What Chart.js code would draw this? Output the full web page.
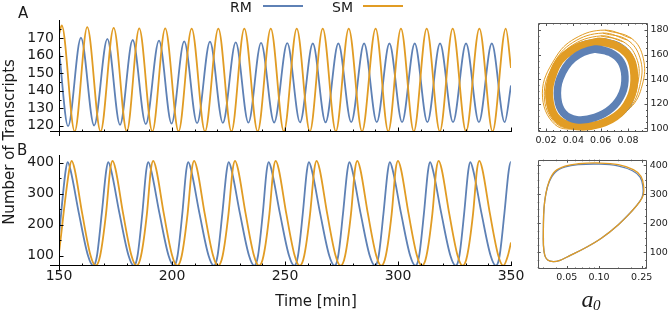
<!DOCTYPE html>
<html>
<head>
<meta charset="utf-8">
<script src="https://cdn.jsdelivr.net/npm/chart.js@4.4.1/dist/chart.umd.min.js"></script>
<style>
  body { margin: 0; background: #fff; width: 669px; height: 311px; position: relative; overflow: hidden; font-family: "DejaVu Sans", sans-serif; color: #1a1a1a; }
  canvas { position: absolute; }
  .t { position: absolute; white-space: nowrap; line-height: 1; }
  .key { position: absolute; height: 2px; }
</style>
</head>
<body>
<canvas id="tsA" width="520" height="150" style="left:0;top:0"></canvas>
<canvas id="tsB" width="540" height="161" style="left:0;top:150px"></canvas>
<canvas id="phA" width="139" height="137" style="left:530px;top:15px"></canvas>
<canvas id="phB" width="139" height="135" style="left:530px;top:152px"></canvas>

<div class="t" style="left:18px;top:5.5px;font-size:15px">A</div>
<div class="t" style="left:17px;top:142.5px;font-size:15px">B</div>
<div class="t" style="left:230px;top:0px;font-size:14px">RM</div>
<div class="key" style="left:263px;top:4.5px;width:40px;background:#5E81B5"></div>
<div class="t" style="left:332px;top:0px;font-size:14px">SM</div>
<div class="key" style="left:363px;top:4.5px;width:40px;background:#E19C24"></div>
<div class="t" style="left:9px;top:142px;font-size:15px;transform:translate(-50%,-50%) rotate(-90deg)">Number of Transcripts</div>
<div class="t" style="left:316px;top:294px;font-size:15px;transform:translateX(-50%)">Time [min]</div>
<div class="t" style="left:581.5px;top:286.5px;font-size:24px;font-family:'Liberation Serif',serif;font-style:italic">a</div>
<div class="t" style="left:593px;top:297.5px;font-size:15px;font-family:'Liberation Serif',serif;font-style:italic">0</div>

<script>
const BLUE = "#5E81B5";
const ORANGE = "#E19C24";

const timeTicks = [150, 200, 250, 300, 350];
const yTicksA = [120, 130, 140, 150, 160, 170];
const yTicksB = [100, 200, 300, 400];

// panel A: peaks and troughs
const rmA_t = [150, 154.0, 159.7, 165.55, 171.4, 177.0, 182.6, 188.4, 194.25, 199.8, 205.4, 211.1, 216.8, 222.5, 228.2, 233.8, 239.4, 245.2, 251.0, 256.65, 262.3, 267.95, 273.6, 279.3, 285.0, 290.6, 296.2, 301.8, 307.4, 313.0, 318.6, 324.35, 330.1, 335.8, 341.5, 347.2, 350];
const rmA_v = [163, 119.8, 170.2, 120.2, 169.6, 120.6, 168.9, 121.0, 168.5, 121.3, 168.1, 121.5, 167.9, 121.7, 167.5, 121.8, 167.3, 121.9, 167.1, 122.0, 166.9, 122.0, 166.9, 122.1, 166.9, 122.1, 166.9, 122.1, 166.9, 122.1, 166.9, 122.1, 166.9, 122.1, 166.9, 122.1, 143];
const smA_t = [150, 151.2, 156.95, 162.5, 168.4, 174.2, 180.0, 185.5, 191.3, 197.0, 202.9, 208.7, 214.6, 220.5, 226.3, 232.0, 237.9, 243.7, 249.5, 255.2, 261.0, 266.7, 272.5, 278.2, 284.1, 290.1, 295.7, 301.3, 307.0, 312.7, 318.5, 324.2, 330.1, 336.0, 341.85, 347.7, 350];
const smA_v = [172, 177.2, 116.8, 176.2, 116.8, 175.8, 116.8, 175.5, 116.8, 175.5, 116.8, 175.4, 116.8, 175.4, 116.8, 175.4, 116.8, 175.4, 116.8, 175.4, 116.8, 175.4, 116.8, 175.4, 116.8, 175.4, 116.8, 175.4, 116.8, 175.4, 116.8, 175.4, 116.8, 175.4, 116.8, 175.4, 153];

// panel B: each cycle read as shoulder, peak, shoulder, mid fall, low, trough, low, mid rise
const rmB_t = [150,
  152.95, 153.85, 155.15, 158.85, 162.85, 165.2, 166.8, 168.9,
  170.9, 171.8, 173.1, 176.8, 180.8, 183.15, 184.75, 186.85,
  188.6, 189.5, 190.8, 194.5, 198.5, 200.85, 202.45, 204.55,
  206.3, 207.2, 208.5, 212.2, 216.2, 218.55, 220.15, 222.25,
  224.2, 225.1, 226.4, 230.1, 234.1, 236.45, 238.05, 240.15,
  241.9, 242.8, 244.1, 247.8, 251.8, 254.15, 255.75, 257.85,
  259.7, 260.6, 261.9, 265.6, 269.6, 271.95, 273.55, 275.65,
  277.6, 278.5, 279.8, 283.5, 287.5, 289.85, 291.45, 293.55,
  295.5, 296.4, 297.7, 301.4, 305.4, 307.75, 309.35, 311.45,
  313.3, 314.2, 315.5, 319.2, 323.2, 325.55, 327.15, 329.25,
  331.1, 332.0, 333.3, 337.0, 341.0, 343.35, 344.95, 347.05,
  349.0, 349.9, 350];
const rmB_v = [165,
  375, 402, 375, 235, 100, 68, 100, 235,
  375, 402, 375, 235, 100, 68, 100, 235,
  375, 402, 375, 235, 100, 68, 100, 235,
  375, 402, 375, 235, 100, 68, 100, 235,
  375, 402, 375, 235, 100, 68, 100, 235,
  375, 402, 375, 235, 100, 68, 100, 235,
  375, 402, 375, 235, 100, 68, 100, 235,
  375, 402, 375, 235, 100, 68, 100, 235,
  375, 402, 375, 235, 100, 68, 100, 235,
  375, 402, 375, 235, 100, 68, 100, 235,
  375, 402, 375, 235, 100, 68, 100, 235,
  375, 402, 401];
const smB_t = [150,
  154.6, 155.6, 156.9, 160.3, 164.0, 166.2, 168.2, 170.8,
  172.7, 173.7, 175.0, 178.4, 182.1, 184.3, 186.3, 188.9,
  190.7, 191.7, 193.0, 196.4, 200.1, 202.3, 204.3, 206.9,
  208.8, 209.8, 211.1, 214.5, 218.2, 220.4, 222.4, 225.0,
  226.9, 227.9, 229.2, 232.6, 236.3, 238.5, 240.5, 243.1,
  244.9, 245.9, 247.2, 250.6, 254.3, 256.5, 258.5, 261.1,
  263.0, 264.0, 265.3, 268.7, 272.4, 274.6, 276.6, 279.2,
  281.0, 282.0, 283.3, 286.7, 290.4, 292.6, 294.6, 297.2,
  299.0, 300.0, 301.3, 304.7, 308.4, 310.6, 312.6, 315.2,
  317.0, 318.0, 319.3, 322.7, 326.4, 328.6, 330.6, 333.2,
  335.0, 336.0, 337.3, 340.7, 344.4, 346.6, 348.6, 350];
const smB_v = [110,
  380, 406, 380, 235, 100, 68, 100, 235,
  380, 406, 380, 235, 100, 68, 100, 235,
  380, 406, 380, 235, 100, 68, 100, 235,
  380, 406, 380, 235, 100, 68, 100, 235,
  380, 406, 380, 235, 100, 68, 100, 235,
  380, 406, 380, 235, 100, 68, 100, 235,
  380, 406, 380, 235, 100, 68, 100, 235,
  380, 406, 380, 235, 100, 68, 100, 235,
  380, 406, 380, 235, 100, 68, 100, 235,
  380, 406, 380, 235, 100, 68, 100, 235,
  380, 406, 380, 235, 100, 68, 100, 143];

// phase plot A (a0 vs transcripts): bands and thin transient rings
const bandRM_a = [0.0559, 0.0668, 0.0749, 0.0778, 0.0758, 0.0680, 0.0559, 0.0424, 0.0327, 0.0285, 0.0302, 0.0400];
const bandRM_n = [164.5, 161.8, 154.2, 142.1, 128.6, 116.4, 108.9, 107.0, 112.4, 124.5, 140.7, 156.9];
const bandSM_a = [0.0571, 0.0705, 0.0810, 0.0846, 0.0827, 0.0741, 0.0595, 0.0424, 0.0290, 0.0229, 0.0237, 0.0339];
const bandSM_n = [170.4, 167.7, 158.3, 143.4, 127.2, 112.4, 103.5, 101.6, 107.0, 120.5, 139.4, 159.6];
const ringRM_a = [0.0590, 0.0740, 0.0838, 0.0860, 0.0800, 0.0595, 0.0430, 0.0280, 0.0213, 0.0245, 0.0365];
const ringRM_n = [173.0, 169.3, 158.0, 141.0, 115.0, 103.0, 101.0, 105.5, 122.0, 145.0, 164.5];
const ringSM1_a = [0.0601, 0.0766, 0.0861, 0.0876, 0.0790, 0.0595, 0.0443, 0.0278, 0.0201, 0.0251, 0.0376];
const ringSM1_n = [175.2, 170.4, 157.6, 139.4, 114.4, 102.6, 100.5, 105.0, 124.5, 148.3, 166.4];
const ringSM2_a = [0.0615, 0.0797, 0.0888, 0.0892, 0.0803, 0.0595, 0.0452, 0.0272, 0.0187, 0.0258, 0.0394];
const ringSM2_n = [177.5, 171.8, 157.3, 137.3, 115.4, 102.1, 100.0, 104.0, 126.5, 152.6, 169.7];
const ringSM3_a = [0.0632, 0.0827, 0.0912, 0.0905, 0.0815, 0.0595, 0.0461, 0.0266, 0.0173, 0.0266, 0.0412];
const ringSM3_n = [179.9, 173.1, 157.0, 135.3, 116.4, 101.6, 99.5, 103.0, 128.6, 156.9, 173.1];

// phase plot B: limit cycles
const loopRM_a = [0.0303, 0.0303, 0.0307, 0.0318, 0.0343, 0.0391, 0.0485, 0.0645, 0.0986, 0.1495, 0.205, 0.2415, 0.2565, 0.2560, 0.240, 0.2016, 0.1514, 0.1059, 0.0741, 0.0518, 0.0433, 0.0375, 0.0332, 0.0312];
const loopRM_n = [127, 196, 253, 298, 343, 377, 395, 403, 405, 399, 382, 360, 327, 299, 276, 242, 196, 150, 115.5, 86.8, 73, 68.4, 74, 90];
const loopSM_a = [0.0303, 0.0303, 0.0307, 0.0318, 0.0342, 0.0389, 0.0482, 0.0642, 0.0986, 0.1514, 0.209, 0.2463, 0.2608, 0.2588, 0.241, 0.2016, 0.1514, 0.1059, 0.0741, 0.0518, 0.0433, 0.0375, 0.0332, 0.0312];
const loopSM_n = [127, 196, 253, 299, 345, 380, 398, 406, 408.6, 403, 385.6, 362.7, 328, 299, 276, 242, 196, 150, 115.5, 86.8, 73, 68.4, 74, 90];

const phaseTicksAx = [0.02, 0.04, 0.06, 0.08];
const phaseTicksAy = [100, 120, 140, 160, 180];
const phaseTicksBx = [0.05, 0.1, 0.25];
const phaseTicksBy = [100, 200, 300, 400];

Chart.defaults.font.family = "DejaVu Sans";
Chart.defaults.color = "#1a1a1a";
Chart.defaults.elements.point.radius = 0;

function pts(xs, ys) {
  return xs.map((x, i) => ({ x: x, y: ys[i] }));
}
function loop(xs, ys) {
  const p = pts(xs, ys);
  return p.concat(p.slice(0, 2));
}
function steps(from, to, step, len) {
  const out = [];
  for (let i = 0; from + i * step <= to + 1e-9; i++) out.push([+(from + i * step).toFixed(4), len]);
  return out;
}
function zeroPad(s) {
  s.paddingLeft = 0; s.paddingRight = 0; s.paddingTop = 0; s.paddingBottom = 0;
}

// small inward tick marks, axis lines and frames
const marks = {
  id: "marks",
  afterDatasetsDraw(chart, args, o) {
    const ctx = chart.ctx, a = chart.chartArea;
    const sx = chart.scales.x, sy = chart.scales.y;
    ctx.save();
    ctx.strokeStyle = o.color;
    ctx.lineWidth = 1;
    ctx.beginPath();
    if (o.frame) ctx.rect(Math.round(a.left) + 0.5, Math.round(a.top) + 0.5, Math.round(a.right - a.left) - 1, Math.round(a.bottom - a.top) - 1);
    if (o.axes) {
      const x0 = Math.round(a.left) + 0.5, y0 = Math.round(a.bottom) - 0.5;
      ctx.moveTo(x0, a.top); ctx.lineTo(x0, a.bottom + 4);
      ctx.moveTo(a.left - 9, y0); ctx.lineTo(a.right, y0);
    }
    for (const [v, len] of o.x) {
      const p = Math.round(sx.getPixelForValue(v)) + 0.5;
      ctx.moveTo(p, a.bottom); ctx.lineTo(p, a.bottom - len);
      if (o.frame) { ctx.moveTo(p, a.top); ctx.lineTo(p, a.top + len); }
    }
    for (const [v, len] of o.y) {
      const p = Math.round(sy.getPixelForValue(v)) + 0.5;
      ctx.moveTo(a.left, p); ctx.lineTo(a.left + len, p);
      if (o.frame) { ctx.moveTo(a.right, p); ctx.lineTo(a.right - len, p); }
    }
    ctx.stroke();
    ctx.restore();
  }
};

function tsOptions(c) {
  return {
    responsive: false,
    animation: false,
    devicePixelRatio: 1,
    layout: { padding: c.pad },
    plugins: {
      legend: { display: false },
      tooltip: { enabled: false },
      marks: {
        color: "#000",
        axes: true,
        x: steps(150, 350, 10, 2.5).concat(timeTicks.map(v => [v, 4.5])),
        y: c.yMinor.concat(c.yTicks.map(v => [v, 4.5]))
      }
    },
    scales: {
      x: {
        type: "linear", min: 150, max: 350,
        grid: { display: false, drawTicks: false },
        border: { display: false },
        afterBuildTicks: s => { s.ticks = timeTicks.map(v => ({ value: v })); },
        ticks: { display: c.showX, padding: 2, autoSkip: false, maxRotation: 0, font: { size: 14 }, callback: v => v },
        afterFit: s => { s.height = c.xH; zeroPad(s); }
      },
      y: {
        type: "linear", min: c.yMin, max: c.yMax,
        grid: { display: false, drawTicks: false },
        border: { display: false },
        afterBuildTicks: s => { s.ticks = c.yTicks.map(v => ({ value: v })); },
        ticks: { padding: 5, font: { size: 14 }, callback: v => v },
        afterFit: s => { s.width = 59; zeroPad(s); }
      }
    }
  };
}

function phaseOptions(c) {
  return {
    responsive: false,
    animation: false,
    devicePixelRatio: 1,
    layout: { padding: c.pad },
    plugins: {
      legend: { display: false },
      tooltip: { enabled: false },
      marks: { color: "#555", frame: true, x: c.xMarks, y: c.yMarks }
    },
    scales: {
      x: {
        type: c.xType, min: c.xMin, max: c.xMax,
        grid: { display: false, drawTicks: false },
        border: { display: false },
        afterBuildTicks: s => { s.ticks = c.xTicks.map(v => ({ value: v })); },
        ticks: { padding: 3, autoSkip: false, maxRotation: 0, font: { size: 9.5 }, callback: v => Number(v).toFixed(2) },
        afterFit: s => { s.height = c.xH; zeroPad(s); }
      },
      y: {
        type: "linear", position: "right", min: c.yMin, max: c.yMax,
        grid: { display: false, drawTicks: false },
        border: { display: false },
        afterBuildTicks: s => { s.ticks = c.yTicks.map(v => ({ value: v })); },
        ticks: { padding: 3, font: { size: 9.5 }, callback: v => v },
        afterFit: s => { s.width = c.yW; zeroPad(s); }
      }
    }
  };
}

new Chart(document.getElementById("tsA"), {
  type: "line",
  data: {
    datasets: [
      { data: pts(smA_t, smA_v), borderColor: ORANGE, borderWidth: 1.8, cubicInterpolationMode: "monotone", order: 0 },
      { data: pts(rmA_t, rmA_v), borderColor: BLUE, borderWidth: 1.8, cubicInterpolationMode: "monotone", order: 1 }
    ]
  },
  options: tsOptions({
    yMin: 116.5, yMax: 180.3, yTicks: yTicksA, yMinor: steps(120, 175, 5, 2.5),
    showX: false, xH: 18, pad: { left: 0, right: 9, top: 20, bottom: 0 }
  }),
  plugins: [marks]
});

new Chart(document.getElementById("tsB"), {
  type: "line",
  data: {
    datasets: [
      { data: pts(smB_t, smB_v), borderColor: ORANGE, borderWidth: 1.8, cubicInterpolationMode: "monotone", order: 0 },
      { data: pts(rmB_t, rmB_v), borderColor: BLUE, borderWidth: 1.8, cubicInterpolationMode: "monotone", order: 1 }
    ]
  },
  options: tsOptions({
    yMin: 67, yMax: 425, yTicks: yTicksB, yMinor: steps(100, 400, 50, 2.5),
    showX: true, xH: 45, pad: { left: 0, right: 29, top: 5, bottom: 0 }
  }),
  plugins: [marks]
});

new Chart(document.getElementById("phA"), {
  type: "line",
  data: {
    datasets: [
      { data: loop(bandRM_a, bandRM_n), borderColor: BLUE, borderWidth: 7.5, tension: 0.4, order: 0 },
      { data: loop(bandSM_a, bandSM_n), borderColor: ORANGE, borderWidth: 8, tension: 0.4, order: 1 },
      { data: loop(ringRM_a, ringRM_n), borderColor: BLUE, borderWidth: 1, tension: 0.4, order: 2 },
      { data: loop(ringSM1_a, ringSM1_n), borderColor: ORANGE, borderWidth: 1, tension: 0.4, order: 3 },
      { data: loop(ringSM2_a, ringSM2_n), borderColor: ORANGE, borderWidth: 1, tension: 0.4, order: 4 },
      { data: loop(ringSM3_a, ringSM3_n), borderColor: ORANGE, borderWidth: 1, tension: 0.4, order: 5 }
    ]
  },
  options: phaseOptions({
    xType: "linear", xMin: 0.0141, xMax: 0.0943, yMin: 97.4, yMax: 185.7,
    xTicks: phaseTicksAx, yTicks: phaseTicksAy,
    xMarks: steps(0.015, 0.09, 0.005, 1.5).concat(phaseTicksAx.map(v => [v, 3])),
    yMarks: steps(100, 185, 5, 1.5).concat(phaseTicksAy.map(v => [v, 3])),
    xH: 20.5, yW: 21.5, pad: { left: 8, right: 0, top: 8, bottom: 0 }
  }),
  plugins: [marks]
});

new Chart(document.getElementById("phB"), {
  type: "line",
  data: {
    datasets: [
      { data: loop(loopSM_a, loopSM_n), borderColor: ORANGE, borderWidth: 1.3, tension: 0.4, order: 0 },
      { data: loop(loopRM_a, loopRM_n), borderColor: BLUE, borderWidth: 1.3, tension: 0.4, order: 1 }
    ]
  },
  options: phaseOptions({
    xType: "logarithmic", xMin: 0.0268, xMax: 0.2784, yMin: 43, yMax: 420,
    xTicks: phaseTicksBx, yTicks: phaseTicksBy,
    xMarks: [[0.03, 1.5], [0.04, 1.5], [0.06, 1.5], [0.07, 1.5], [0.08, 1.5], [0.09, 1.5], [0.15, 1.5], [0.2, 1.5]].concat(phaseTicksBx.map(v => [v, 3])),
    yMarks: steps(50, 400, 25, 1.5).concat(phaseTicksBy.map(v => [v, 3])),
    xH: 18, yW: 22.3, pad: { left: 7.7, right: 0, top: 7.7, bottom: 0 }
  }),
  plugins: [marks]
});
</script>
</body>
</html>
